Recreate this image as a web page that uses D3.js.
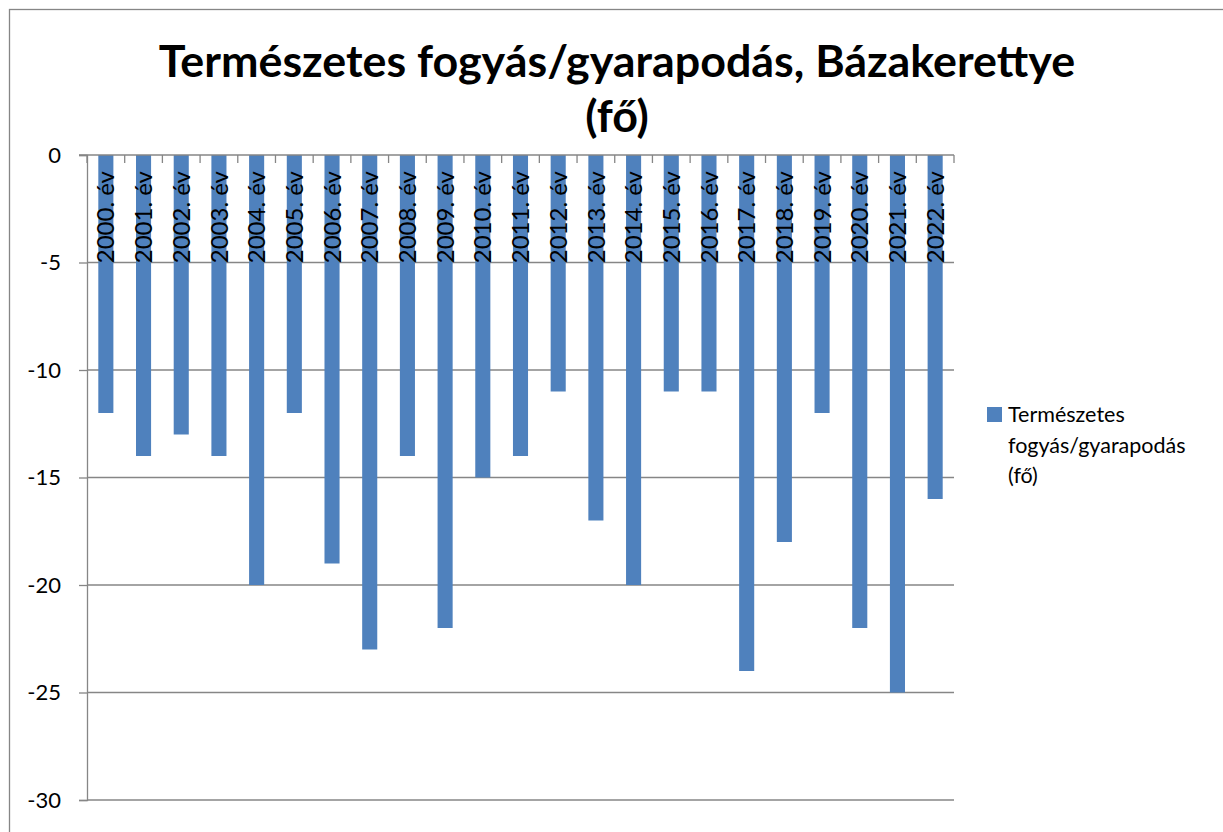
<!DOCTYPE html>
<html>
<head>
<meta charset="utf-8">
<script src="https://cdn.jsdelivr.net/npm/d3@7"></script>
<style>
  body { margin: 0; background: #fff; }
  svg { display: block; font-family: Lato, "Open Sans", sans-serif; }
</style>
</head>
<body>
<svg id="chart" width="1223" height="832"></svg>
<script>
// data
const years = ["2000. év","2001. év","2002. év","2003. év","2004. év","2005. év","2006. év","2007. év",
  "2008. év","2009. év","2010. év","2011. év","2012. év","2013. év","2014. év","2015. év",
  "2016. év","2017. év","2018. év","2019. év","2020. év","2021. év","2022. év"];
const values = [-12,-14,-13,-14,-20,-12,-19,-23,-14,-22,-15,-14,-11,-17,-20,-11,-11,-24,-18,-12,-22,-25,-16];
const yTicks = [0,-5,-10,-15,-20,-25,-30];
const seriesName = ["Természetes", "fogyás/gyarapodás", "(fő)"];
const titleLines = ["Természetes fogyás/gyarapodás, Bázakerettye", "(fő)"];

// plot area
const plot = {left: 87, right: 954, top: 155, bottom: 800};
const gray = "#868686";
const barColor = "#4F81BD";

const svg = d3.select("#chart");

//outer border (cut off on right and bottom)
svg.append("rect")
  .attr("x", 9.5).attr("y", 9.5)
  .attr("width", 1300).attr("height", 900)
  .attr("fill", "none")
  .attr("stroke", gray)
  .attr("stroke-width", 1.3);

//title
svg.append("text")
  .attr("x", 617)
  .attr("y", 77)
  .attr("text-anchor", "middle")
  .attr("font-size", 44.8)
  .attr("font-weight", "bold")
  .selectAll("tspan")
  .data(titleLines)
  .enter()
  .append("tspan")
  .attr("x", 617)
  .attr("dy", (d, i) => i === 0 ? 0 : 55)
  .text(d => d);

//scales
let xScale = d3.scaleBand()
  .domain(years)
  .range([plot.left, plot.right])
  .padding(0);

let yScale = d3.scaleLinear()
  .domain([0, -30])
  .range([plot.top, plot.bottom]);

//gridlines
svg.append("g")
  .selectAll("line")
  .data(yTicks.filter(d => d !== 0))
  .enter()
  .append("line")
  .attr("x1", plot.left)
  .attr("x2", plot.right)
  .attr("y1", d => yScale(d))
  .attr("y2", d => yScale(d))
  .attr("stroke", gray)
  .attr("stroke-width", 1.3);

//bars
let bw = xScale.bandwidth() * 0.4;
svg.append("g")
  .selectAll("rect")
  .data(values)
  .enter()
  .append("rect")
  .attr("x", (d, i) => xScale(years[i]) + (xScale.bandwidth() - bw) / 2)
  .attr("y", yScale(0))
  .attr("width", bw)
  .attr("height", d => yScale(d) - yScale(0))
  .attr("fill", barColor);

//y axis
let yAxis = svg.append("g")
  .attr("transform", `translate(${plot.left},0)`)
  .call(d3.axisLeft(yScale).tickValues(yTicks).tickSize(8).tickPadding(18).tickFormat(d3.format("d")));
yAxis.select(".domain").attr("stroke", gray).attr("stroke-width", 1.3);
yAxis.selectAll(".tick line").attr("stroke", gray).attr("stroke-width", 1.3);
yAxis.selectAll(".tick text")
  .attr("font-size", 22)
  .attr("font-family", "Lato, sans-serif")
  .attr("fill", "#000")
  .text(d => d === 0 ? "0" : "-" + Math.abs(d));

//category axis at zero (ticks at boundaries)
let catAxis = svg.append("g");
catAxis.append("line")
  .attr("x1", plot.left - 8)
  .attr("x2", plot.right)
  .attr("y1", yScale(0))
  .attr("y2", yScale(0))
  .attr("stroke", gray)
  .attr("stroke-width", 1.3);
catAxis.selectAll(".ctick")
  .data(years.concat(["end"]))
  .enter()
  .append("line")
  .attr("class", "ctick")
  .attr("x1", (d, i) => plot.left + i * xScale.step())
  .attr("x2", (d, i) => plot.left + i * xScale.step())
  .attr("y1", yScale(0))
  .attr("y2", yScale(0) + 8)
  .attr("stroke", gray)
  .attr("stroke-width", 1.3);

//category labels, rotated
svg.append("g")
  .selectAll("text")
  .data(years)
  .enter()
  .append("text")
  .attr("transform", d => `translate(${xScale(d) + xScale.bandwidth() / 2},${yScale(0) + 16}) rotate(-90)`)
  .attr("text-anchor", "end")
  .attr("dy", "0.36em")
  .attr("font-size", 24)
  .attr("fill", "#000")
  .text(d => d);

//legend
svg.append("rect")
  .attr("x", 987)
  .attr("y", 407)
  .attr("width", 15)
  .attr("height", 15)
  .attr("fill", barColor);

svg.append("text")
  .attr("x", 1008)
  .attr("y", 422)
  .attr("font-size", 21.5)
  .attr("fill", "#000")
  .selectAll("tspan")
  .data(seriesName)
  .enter()
  .append("tspan")
  .attr("x", 1008)
  .attr("dy", (d, i) => i === 0 ? 0 : 30.5)
  .text(d => d);
</script>
</body>
</html>
